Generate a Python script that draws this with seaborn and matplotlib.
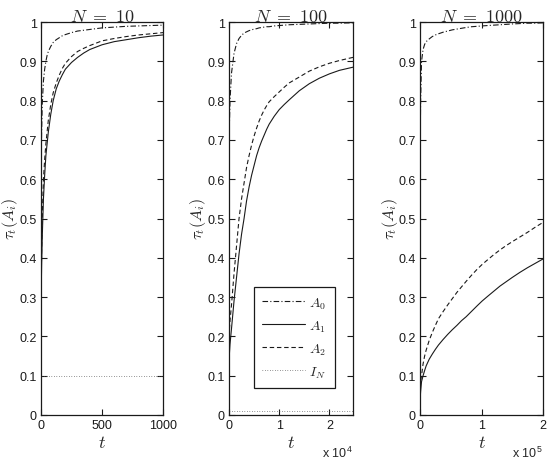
import matplotlib
matplotlib.use("Agg")
import matplotlib.pyplot as plt
import matplotlib.ticker as mticker
import seaborn as sns
import numpy as np

# N = 10
t10 = [0, 5, 10, 20, 30, 40, 50, 60, 80, 100, 125, 150, 175, 200, 250, 300, 350, 400, 500, 600, 700, 800, 900, 1000]
a0_10 = [0.62, 0.72, 0.79, 0.85, 0.88, 0.90, 0.915, 0.925, 0.938, 0.948, 0.955, 0.960, 0.965, 0.968, 0.973, 0.977, 0.979, 0.981, 0.985, 0.987, 0.989, 0.990, 0.991, 0.992]
a1_10 = [0.28, 0.38, 0.45, 0.55, 0.61, 0.66, 0.69, 0.72, 0.765, 0.80, 0.83, 0.85, 0.866, 0.88, 0.897, 0.91, 0.921, 0.93, 0.942, 0.950, 0.955, 0.960, 0.964, 0.967]
a2_10 = [0.30, 0.42, 0.50, 0.60, 0.65, 0.69, 0.72, 0.75, 0.79, 0.82, 0.845, 0.865, 0.882, 0.895, 0.912, 0.925, 0.933, 0.940, 0.952, 0.958, 0.963, 0.967, 0.970, 0.973]

# N = 100
t100 = [0, 200, 500, 1000, 1500, 2000, 2500, 3000, 3500, 4000, 4500, 5000, 5500, 6000, 6500, 7000, 7500, 8000, 9000, 10000, 11000, 12000, 14000, 16000, 18000, 20000, 22000, 24700]
a0_100 = [0.70, 0.80, 0.87, 0.92, 0.945, 0.958, 0.966, 0.972, 0.975, 0.978, 0.980, 0.982, 0.983, 0.985, 0.986, 0.987, 0.988, 0.988, 0.990, 0.991, 0.992, 0.993, 0.994, 0.995, 0.996, 0.997, 0.997, 0.998]
a1_100 = [0.14, 0.18, 0.22, 0.29, 0.35, 0.41, 0.46, 0.50, 0.545, 0.58, 0.61, 0.635, 0.66, 0.68, 0.697, 0.712, 0.727, 0.74, 0.76, 0.777, 0.79, 0.802, 0.825, 0.843, 0.857, 0.868, 0.877, 0.885]
a2_100 = [0.20, 0.24, 0.28, 0.36, 0.43, 0.50, 0.55, 0.59, 0.63, 0.66, 0.687, 0.71, 0.73, 0.748, 0.763, 0.776, 0.787, 0.797, 0.81, 0.822, 0.834, 0.845, 0.86, 0.875, 0.886, 0.895, 0.902, 0.91]

# N = 1000
t1000 = [0, 1000, 2500, 5000, 7500, 10000, 15000, 20000, 25000, 30000, 37500, 45000, 52500, 60000, 67500, 75000, 84000, 93000, 101000, 110000, 120000, 130000, 140000, 150000, 162500, 175000, 187500, 200000]
a0_1000 = [0.65, 0.80, 0.90, 0.93, 0.943, 0.95, 0.957, 0.963, 0.967, 0.970, 0.974, 0.977, 0.980, 0.982, 0.984, 0.986, 0.988, 0.989, 0.990, 0.991, 0.992, 0.993, 0.994, 0.995, 0.996, 0.997, 0.997, 0.998]
a1_1000 = [0.035, 0.06, 0.085, 0.10, 0.113, 0.125, 0.142, 0.155, 0.167, 0.178, 0.192, 0.205, 0.217, 0.228, 0.24, 0.25, 0.264, 0.278, 0.29, 0.302, 0.315, 0.328, 0.339, 0.35, 0.363, 0.375, 0.386, 0.397]
a2_1000 = [0.07, 0.085, 0.10, 0.13, 0.15, 0.165, 0.19, 0.21, 0.228, 0.245, 0.263, 0.28, 0.296, 0.312, 0.326, 0.34, 0.356, 0.371, 0.383, 0.395, 0.408, 0.42, 0.431, 0.441, 0.453, 0.465, 0.478, 0.49]

Ns = [10, 100, 1000]
xmax = [1000, 24700, 200000]
xscale = [1, 1e4, 1e5]
xticks = [[0, 500, 1000], [0, 10000, 20000], [0, 100000, 200000]]
offsets = [None, '4', '5']

sns.set_theme(style="ticks")
plt.rcParams['font.family'] = ['Liberation Sans', 'DejaVu Sans']
plt.rcParams['mathtext.fontset'] = 'cm'

fig = plt.figure(figsize=(5.48, 4.6), dpi=100)
widths_px = [122, 124, 123]
positions = [[41/548, 44/460, 122/548, 393/460],
             [229/548, 44/460, 124/548, 393/460],
             [420/548, 44/460, 123/548, 393/460]]

data = [(t10, a0_10, a1_10, a2_10), (t100, a0_100, a1_100, a2_100), (t1000, a0_1000, a1_1000, a2_1000)]

for i, (t, a0, a1, a2) in enumerate(data):
    ax = fig.add_axes(positions[i])
    t = np.array(t)
    sns.lineplot(x=t, y=a0, ax=ax, color='k', lw=0.8, label=r'$A_0$')
    ax.lines[-1].set_dashes([5, 2, 1, 2])
    sns.lineplot(x=t, y=a1, ax=ax, color='k', lw=0.8, label=r'$A_1$')
    sns.lineplot(x=t, y=a2, ax=ax, color='k', lw=0.8, label=r'$A_2$')
    ax.lines[-1].set_dashes([4, 2.5])
    sns.lineplot(x=[0, xmax[i]], y=[1.0 / Ns[i]] * 2, ax=ax, color='0.3', lw=0.6, label=r'$I_N$')
    ax.lines[-1].set_dashes([0.8, 2.2])

    ax.set_xlim(0, xmax[i])
    ax.set_ylim(0, 1)
    ax.set_xticks(xticks[i])
    ax.set_yticks(np.arange(0, 1.01, 0.1))
    ax.yaxis.set_major_formatter(mticker.FuncFormatter(lambda v, p: '0' if v == 0 else ('1' if abs(v - 1) < 1e-9 else f'{v:.1f}')))
    s = xscale[i]
    ax.xaxis.set_major_formatter(mticker.FuncFormatter(lambda v, p, s=s: f'{v / s:g}'))
    ax.tick_params(direction='in', top=True, right=True, length=4, width=0.8, labelsize=9, pad=3, colors='k')
    for sp in ax.spines.values():
        sp.set_color('k')
        sp.set_linewidth(0.9)
    ax.set_title(rf'$N\ =\ {Ns[i]}$', fontsize=13, pad=1)
    ax.set_xlabel(r'$t$', fontsize=13, labelpad=2)
    ax.set_ylabel(r'$\tau_t(A_i)$', fontsize=11.5)
    ax.yaxis.set_label_coords(-20.5 / widths_px[i], 0.5)
    if offsets[i]:
        ax.text(1.0, -0.075, r'x 10$^{\mathregular{' + offsets[i] + '}}$', transform=ax.transAxes,
                ha='right', va='top', fontsize=9)
    if i == 1:
        leg = ax.legend(loc='lower left', bbox_to_anchor=(0.2, 0.069), frameon=True, fancybox=False,
                        edgecolor='k', fontsize=10, handlelength=3.1, handletextpad=0.3,
                        labelspacing=0.55, borderpad=0.6, borderaxespad=0)
        leg.get_frame().set_linewidth(0.9)
        leg.get_frame().set_alpha(1)
    else:
        ax.get_legend().remove()

fig.savefig('out.png', dpi=100, facecolor='white')
